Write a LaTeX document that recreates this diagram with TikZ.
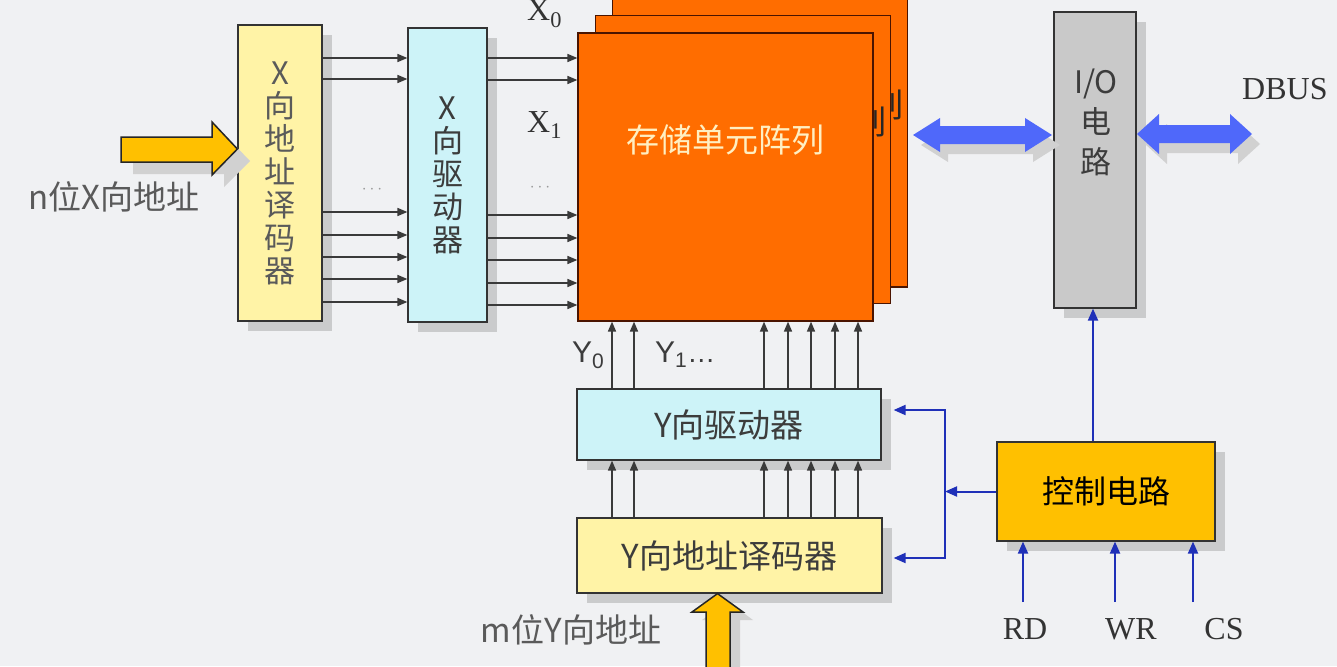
\documentclass[tikz,border=0pt]{standalone}
\usepackage{fontspec}
\setmainfont{Liberation Serif}
\newfontfamily\cjk{Noto Sans CJK SC}
\newfontfamily\arial{Liberation Sans}
\usetikzlibrary{arrows.meta,calc,shadows}
\definecolor{BgGray}{HTML}{F0F1F3}
\definecolor{DecYellow}{HTML}{FFF3A6}
\definecolor{DrvCyan}{HTML}{CDF3F8}
\definecolor{ArrOrange}{HTML}{FF6D00}
\definecolor{ArrEdge}{HTML}{4A1400}
\definecolor{ArrowGold}{HTML}{FFC000}
\definecolor{IOGray}{HTML}{C9C9C9}
\definecolor{CtlBlue}{HTML}{1F30B8}
\definecolor{BusBlue}{HTML}{4F68FA}
\definecolor{SigGray}{HTML}{3A3A3A}
\definecolor{TextGray}{HTML}{5A5A5A}
\definecolor{TextDark}{HTML}{3C3C3C}
\definecolor{CreamText}{HTML}{FFEFC2}
\tikzset{
	>={Triangle[length=10pt,width=8pt]},
	box/.style={draw=black!80, line width=1.2pt, inner sep=0pt},
	dropshade/.style={drop shadow={shadow xshift=10pt, shadow yshift=-10pt, fill=black!35, opacity=.5}},
	decbox/.style={box, dropshade, fill=DecYellow},
	drvbox/.style={box, dropshade, fill=DrvCyan},
	cellarray/.style={draw=ArrEdge, line width=1.2pt, fill=ArrOrange, minimum width=295pt, minimum height=288pt},
	sig/.style={draw=SigGray, line width=1.6pt, ->},
	ctl/.style={draw=CtlBlue, line width=2pt, >={Triangle[length=12pt,width=10pt]}},
	bigarrow/.style={fill=ArrowGold, draw=black!85, line width=1.5pt},
	arrowshade/.style={fill=black!18},
	bus/.style={fill=BusBlue},
	cjktext/.style={font=\cjk\fontsize{31}{33}\selectfont, text=TextDark},
	latin/.style={font=\fontsize{32}{34}\selectfont, text=black!80, inner sep=0pt},
}
\begin{document}
\begin{tikzpicture}[x=1pt,y=-1pt]
	\useasboundingbox (0,0) rectangle (1337,666);
	\clip (0,0) rectangle (1337,666);
	\fill[BgGray] (0,0) rectangle (1337,666);
	
	% X decoder and X driver
	\node[decbox, cjktext, text=TextGray, align=center, minimum width=84pt, minimum height=296pt] (xdec) at (280,173) {X\\向\\地\\址\\译\\码\\器};
	\node[drvbox, cjktext, align=center, minimum width=79pt, minimum height=294pt] (xdrv) at (447.5,175) {X\\向\\驱\\动\\器};
	
	% X input arrow
	\fill[arrowshade] (133,149) -- (224,149) -- (224,134) -- (250,161) -- (224,187) -- (224,174) -- (133,174) -- cycle;
	\draw[bigarrow] (121,137) -- (212,137) -- (212,122) -- (xdec.west |- 0,149) -- (212,175) -- (212,162) -- (121,162) -- cycle;
	\node[cjktext, font=\cjk\fontsize{33}{35}\selectfont, text=TextGray] (nlabel) at (114,197) {n位X向地址};
	
	% stacked cell arrays (only the tail of the back labels shows)
	\node[cellarray] (arr3) at (760,143) {};
	\node[cjktext, font=\cjk\fontsize{33}{35}\selectfont, text=black!85, anchor=east, inner sep=0pt] (arr3txt) at (904,105) {列};
	\node[cellarray] (arr2) at (743,159.5) {};
	\node[cjktext, font=\cjk\fontsize{33}{35}\selectfont, text=black!85, anchor=east, inner sep=0pt] (arr2txt) at (887,122) {列};
	\node[cellarray] (arr) at (725.5,177) {};
	\node[cjktext, font=\cjk\fontsize{33}{35}\selectfont, text=CreamText] (arrtxt) at (725,140) {存储单元阵列};
	
	% X select lines
	\foreach \y in {58,79,212,235,257,279,302}
		\draw[sig] (xdec.east |- 0,\y) -- (xdrv.west |- 0,\y);
	\foreach \y in {58,80,215,238,260,283,305}
		\draw[sig] (xdrv.east |- 0,\y) -- (arr.west |- 0,\y);
	\node[text=black!40, font=\fontsize{16}{16}\selectfont] (xdots1) at (372,190) {$\cdots$};
	\node[text=black!40, font=\fontsize{16}{16}\selectfont] (xdots2) at (540,188) {$\cdots$};
	\node[latin, anchor=base west] (xlab0) at (527,21) {X\textsubscript{0}};
	\node[latin, anchor=base west] (xlab1) at (527,132) {X\textsubscript{1}};
	
	% Y driver and Y decoder
	\node[drvbox, cjktext, font=\cjk\fontsize{33}{35}\selectfont, minimum width=304pt, minimum height=71pt] (ydrv) at (729,424.5) {Y向驱动器};
	\node[decbox, cjktext, font=\cjk\fontsize{33}{35}\selectfont, minimum width=305pt, minimum height=75pt] (ydec) at (729.5,555.5) {Y向地址译码器};
	\foreach \x in {612,634,764,788,811,835,858} {
		\draw[sig] (ydrv.north -| \x,0) -- (arr.south -| \x,0);
		\draw[sig] (ydec.north -| \x,0) -- (ydrv.south -| \x,0);
	}
	\node[font=\arial\fontsize{30}{30}\selectfont, text=TextDark, anchor=base west, inner sep=0pt] (ylab0) at (572,362) {Y\textsubscript{0}};
	\node[font=\arial\fontsize{30}{30}\selectfont, text=TextDark, anchor=base west, inner sep=0pt] (ylab1) at (655,362) {Y\textsubscript{1}{\fontsize{28}{28}\selectfont\dots}};
	
	% Y input arrow
	\fill[arrowshade] (716,676) -- (716,620) -- (702,620) -- (727.5,601) -- (753,620) -- (740,620) -- (740,676) -- cycle;
	\draw[bigarrow] (706,668) -- (706,612) -- (692,612) -- (ydec.south -| 717.5,0) -- (743,612) -- (730,612) -- (730,668) -- cycle;
	\node[cjktext, font=\cjk\fontsize{33}{35}\selectfont, text=TextGray] (mlabel) at (571,630) {m位Y向地址};
	
	% I/O circuit and data bus
	\node[box, dropshade, fill=IOGray, minimum width=82pt, minimum height=296pt] (io) at (1095,160) {};
	\node[cjktext, font=\cjk\fontsize{31}{40}\selectfont, align=center] (iotxt) at (1096,122) {I/O\\电\\路};
	\fill[arrowshade, shift={(8,10)}] (913,135) -- (940,118) -- (940,126) -- (1025,126) -- (1025,118) -- (1052,135) -- (1025,152) -- (1025,144) -- (940,144) -- (940,152) -- cycle;
	\fill[bus] (913,135) -- (940,118) -- (940,126) -- (1025,126) -- (1025,118) -- (1052,135) -- (1025,152) -- (1025,144) -- (940,144) -- (940,152) -- cycle;
	\fill[arrowshade, shift={(8,10)}] (1137,134) -- (1159,114) -- (1159,125) -- (1230,125) -- (1230,114) -- (1252,134) -- (1230,154) -- (1230,143) -- (1159,143) -- (1159,154) -- cycle;
	\fill[bus] (1137,134) -- (1159,114) -- (1159,125) -- (1230,125) -- (1230,114) -- (1252,134) -- (1230,154) -- (1230,143) -- (1159,143) -- (1159,154) -- cycle;
	\node[latin, anchor=base west] (dbus) at (1242,100) {DBUS};
	
	% control circuit
	\node[box, dropshade, fill=ArrowGold, cjktext, font=\cjk\fontsize{32}{34}\selectfont, text=black, minimum width=218pt, minimum height=99pt] (ctrl) at (1106,491.5) {控制电路};
	\coordinate (jn) at (945,491.5);
	\draw[ctl,->] (ctrl.west) -- (jn);
	\draw[ctl,<->] ($(ydrv.east |- 0,410)+(12,0)$) -| (jn) |- ($(ydec.east |- 0,558)+(11,0)$);
	\draw[ctl,->] (ctrl.north -| 1093,0) -- (io.south -| 1093,0);
	
	% control inputs
	\coordinate (rdin) at (1023,602);
	\coordinate (wrin) at (1115,602);
	\coordinate (csin) at (1193,602);
	\foreach \c in {rdin,wrin,csin}
		\draw[ctl,->] (\c) -- (\c |- ctrl.south);
	\node[latin, anchor=base] (rd) at (1025,639) {RD};
	\node[latin, anchor=base] (wr) at (1131,639) {WR};
	\node[latin, anchor=base] (cs) at (1224,639) {CS};
	
\end{tikzpicture}
\end{document}
